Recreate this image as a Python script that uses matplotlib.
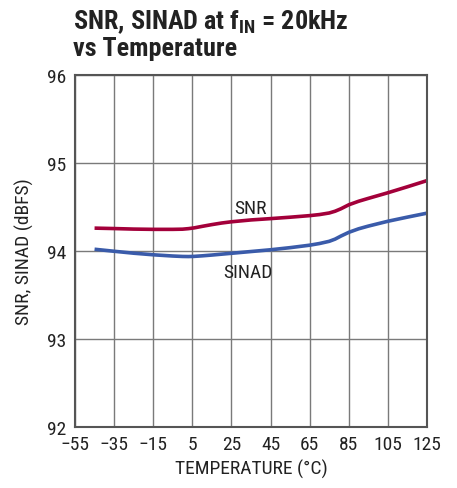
import matplotlib
matplotlib.use("Agg")
import matplotlib.pyplot as plt
from matplotlib import font_manager

fams = {f.name for f in font_manager.fontManager.ttflist}
base = next((f for f in ['Roboto Condensed', 'Archivo Narrow', 'PT Sans Narrow', 'Liberation Sans'] if f in fams), 'DejaVu Sans')
plt.rcParams['font.family'] = [base, 'DejaVu Sans']
plt.rcParams['mathtext.fontset'] = 'custom'
plt.rcParams['mathtext.rm'] = base
plt.rcParams['mathtext.bf'] = base + ':bold'

temp = [-45, -35, -25, -15, -5, 0, 3, 6, 10, 15, 20, 25, 35, 45, 55, 65, 70, 75, 78, 81, 85, 90, 95, 105, 115, 125]
snr = [94.26, 94.255, 94.249, 94.246, 94.246, 94.248, 94.254, 94.263, 94.28, 94.30, 94.318, 94.332, 94.353, 94.368, 94.384, 94.402, 94.414, 94.432, 94.452, 94.48, 94.525, 94.565, 94.598, 94.662, 94.73, 94.80]
sinad = [94.02, 93.997, 93.975, 93.957, 93.943, 93.938, 93.937, 93.939, 93.945, 93.954, 93.964, 93.974, 93.994, 94.014, 94.038, 94.066, 94.085, 94.11, 94.135, 94.17, 94.212, 94.252, 94.283, 94.338, 94.385, 94.43]

xticks = [-55, -35, -15, 5, 25, 45, 65, 85, 105, 125]
yticks = [92, 93, 94, 95, 96]

fig = plt.figure(figsize=(4.57, 4.89), dpi=100)
ax = fig.add_axes([75/457, 1-428/489, 352/457, 352/489])

ax.plot(temp, snr, color='#A3003A', lw=2.6, solid_capstyle='butt', solid_joinstyle='round')
ax.plot(temp, sinad, color='#3A5BAA', lw=2.6, solid_capstyle='butt', solid_joinstyle='round')

ax.set_xlim(-55, 125)
ax.set_ylim(92, 96)
ax.set_xticks(xticks)
ax.set_xticklabels([str(t).replace('-', '\u2212') for t in xticks])
ax.set_yticks(yticks)
ax.grid(True, color='#7a7a7a', lw=1.0)
ax.set_axisbelow(True)
for s in ax.spines.values():
    s.set_color('#555555')
    s.set_linewidth(1.5)
ax.tick_params(length=0, labelsize=14, pad=6, colors='#222222')
ax.set_xlabel('TEMPERATURE (°C)', fontsize=14, color='#222222', labelpad=4)
ax.set_ylabel('SNR, SINAD (dBFS)', fontsize=14, color='#222222', labelpad=10)

ax.text(34.5, 94.49, 'SNR', fontsize=14, color='#222222', ha='center', va='center')
ax.text(33.5, 93.76, 'SINAD', fontsize=14, color='#222222', ha='center', va='center')

fig.text(73/457, 1-29/489, r'SNR, SINAD at f$_{\mathbf{IN}}$ = 20kHz', fontsize=18.8, fontweight='bold', color='#222222', ha='left', va='baseline')
fig.text(73/457, 1-56/489, 'vs Temperature', fontsize=18.8, fontweight='bold', color='#222222', ha='left', va='baseline')

fig.savefig('out.png', dpi=100)
